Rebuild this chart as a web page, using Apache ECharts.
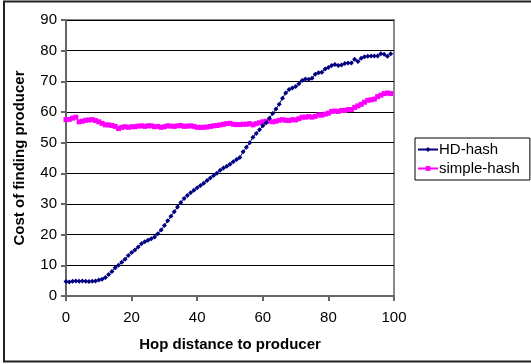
<!DOCTYPE html>
<html>
<head>
<meta charset="utf-8">
<script src="https://cdn.jsdelivr.net/npm/echarts@6/dist/echarts.min.js"></script>
<style>
  html, body { margin: 0; padding: 0; background: #fff; }
  #chart { width: 531px; height: 364px; }
</style>
</head>
<body>
<div id="chart"></div>
<script>
// hop distance 0..99
const hops = [];
for (let i = 0; i < 100; i++) hops.push(i);

const hdHash = [
  4.7, 4.6, 4.8, 4.9, 4.8, 4.9, 4.8, 4.7, 4.8, 4.9,
  5.2, 5.5, 6.0, 7.0, 8.0, 9.2, 10.0, 11.0, 12.0, 13.2,
  14.2, 15.0, 16.0, 17.0, 17.7, 18.2, 18.7, 19.2, 20.3, 21.5,
  23.0, 24.5, 26.0, 27.5, 29.0, 30.5, 31.8, 32.8, 33.7, 34.5,
  35.3, 36.0, 36.8, 37.7, 38.5, 39.3, 40.0, 41.0, 41.7, 42.3,
  43.0, 43.8, 44.5, 45.2, 47.0, 48.5, 50.0, 51.8, 53.0, 54.2,
  55.5, 56.5, 58.0, 59.5, 61.0, 62.5, 64.5, 66.2, 67.3, 67.8,
  68.3, 69.2, 70.3, 70.8, 70.7, 71.0, 72.3, 72.8, 73.0, 74.0,
  74.5, 75.2, 75.5, 75.2, 75.3, 75.8, 76.0, 76.0, 77.2, 76.5,
  77.5, 78.0, 78.2, 78.3, 78.3, 78.3, 79.0, 78.8, 78.2, 79.0
];

const simpleHash = [
  57.5, 57.6, 58.0, 58.3, 56.8, 57.0, 57.3, 57.4, 57.5, 57.2,
  56.8, 56.3, 55.8, 55.8, 55.6, 55.3, 54.6, 55.0, 55.2, 55.0,
  55.2, 55.2, 55.4, 55.5, 55.3, 55.5, 55.5, 55.2, 55.3, 55.0,
  55.2, 55.5, 55.4, 55.3, 55.5, 55.6, 55.3, 55.4, 55.5, 55.3,
  55.0, 55.0, 55.0, 55.1, 55.3, 55.5, 55.6, 55.8, 56.0, 56.2,
  56.3, 56.0, 55.9, 55.9, 56.0, 56.0, 56.2, 55.8, 56.2, 56.5,
  56.8, 57.0, 57.0, 56.8, 57.0, 57.3, 57.5, 57.3, 57.2, 57.5,
  57.4, 57.8, 58.3, 58.3, 58.5, 58.3, 58.6, 59.0, 59.0, 59.3,
  59.6, 60.2, 60.3, 60.2, 60.5, 60.5, 60.8, 60.8, 61.5, 62.0,
  62.5, 63.2, 63.8, 64.0, 64.2, 65.0, 65.5, 66.0, 66.2, 66.0
];

const seriesNames = ['HD-hash', 'simple-hash'];

function pairs(xs, ys) {
  return xs.map(function (x, i) { return [x, ys[i]]; });
}

const font = 'Liberation Sans, Arial, sans-serif';
const chart = echarts.init(document.getElementById('chart'), null, { renderer: 'canvas' });

const option = {
  animation: false,
  backgroundColor: '#fff',
  textStyle: { fontFamily: font },
  graphic: [
    {
      // outer frame of the picture (open at the right)
      type: 'rect',
      shape: { x: 4, y: 1.5, width: 600, height: 360 },
      style: { fill: 'none', stroke: '#222', lineWidth: 2 },
      silent: true
    },
    {
      // plot area border (top/right gray)
      type: 'rect',
      shape: { x: 66, y: 20, width: 328, height: 276 },
      style: { fill: 'none', stroke: '#8a8a8a', lineWidth: 2 },
      silent: true,
      z: 0
    }
  ],
  grid: { left: 66, right: 137, top: 20, bottom: 68, containLabel: false },
  legend: {
    data: seriesNames,
    orient: 'vertical',
    left: 415,
    top: 138,
    padding: [4, 10, 4, 2],
    itemGap: 4,
    itemWidth: 20,
    itemHeight: 6,
    borderColor: '#000',
    borderWidth: 1,
    borderRadius: 0,
    textStyle: { fontFamily: font, fontSize: 15, color: '#000', padding: [0, 0, 0, -4] }
  },
  xAxis: {
    type: 'value',
    min: 0,
    max: 100,
    interval: 20,
    name: 'Hop distance to producer',
    nameLocation: 'middle',
    nameGap: 41,
    nameTextStyle: { fontFamily: font, fontWeight: 'bold', fontSize: 15, color: '#000' },
    axisLine: { show: true, lineStyle: { color: '#666', width: 2 } },
    axisTick: { show: true, length: 5, lineStyle: { color: '#666', width: 2 } },
    axisLabel: { fontFamily: font, fontSize: 15, color: '#000', margin: 14 },
    splitLine: { show: false }
  },
  yAxis: {
    type: 'value',
    min: 0,
    max: 90,
    interval: 10,
    name: 'Cost of finding producer',
    nameLocation: 'middle',
    nameRotate: 90,
    nameGap: 39,
    nameTextStyle: { fontFamily: font, fontWeight: 'bold', fontSize: 15, color: '#000' },
    axisLine: { show: true, lineStyle: { color: '#666', width: 2 } },
    axisTick: { show: true, length: 5, lineStyle: { color: '#666', width: 2 } },
    axisLabel: { fontFamily: font, fontSize: 15, color: '#000', margin: 9 },
    splitLine: { show: true, lineStyle: { color: '#000', width: 1 } }
  },
  series: [
    {
      name: seriesNames[0],
      type: 'line',
      data: pairs(hops, hdHash),
      symbol: 'diamond',
      symbolSize: 5,
      showSymbol: true,
      color: '#000080',
      lineStyle: { color: '#000080', width: 1 },
      itemStyle: { color: '#000080' },
      z: 3
    },
    {
      name: seriesNames[1],
      type: 'line',
      data: pairs(hops, simpleHash),
      symbol: 'rect',
      symbolSize: 5,
      showSymbol: true,
      color: '#ff00ff',
      lineStyle: { color: '#ff00ff', width: 1 },
      itemStyle: { color: '#ff00ff' },
      z: 2
    }
  ]
};

chart.setOption(option);
</script>
</body>
</html>
